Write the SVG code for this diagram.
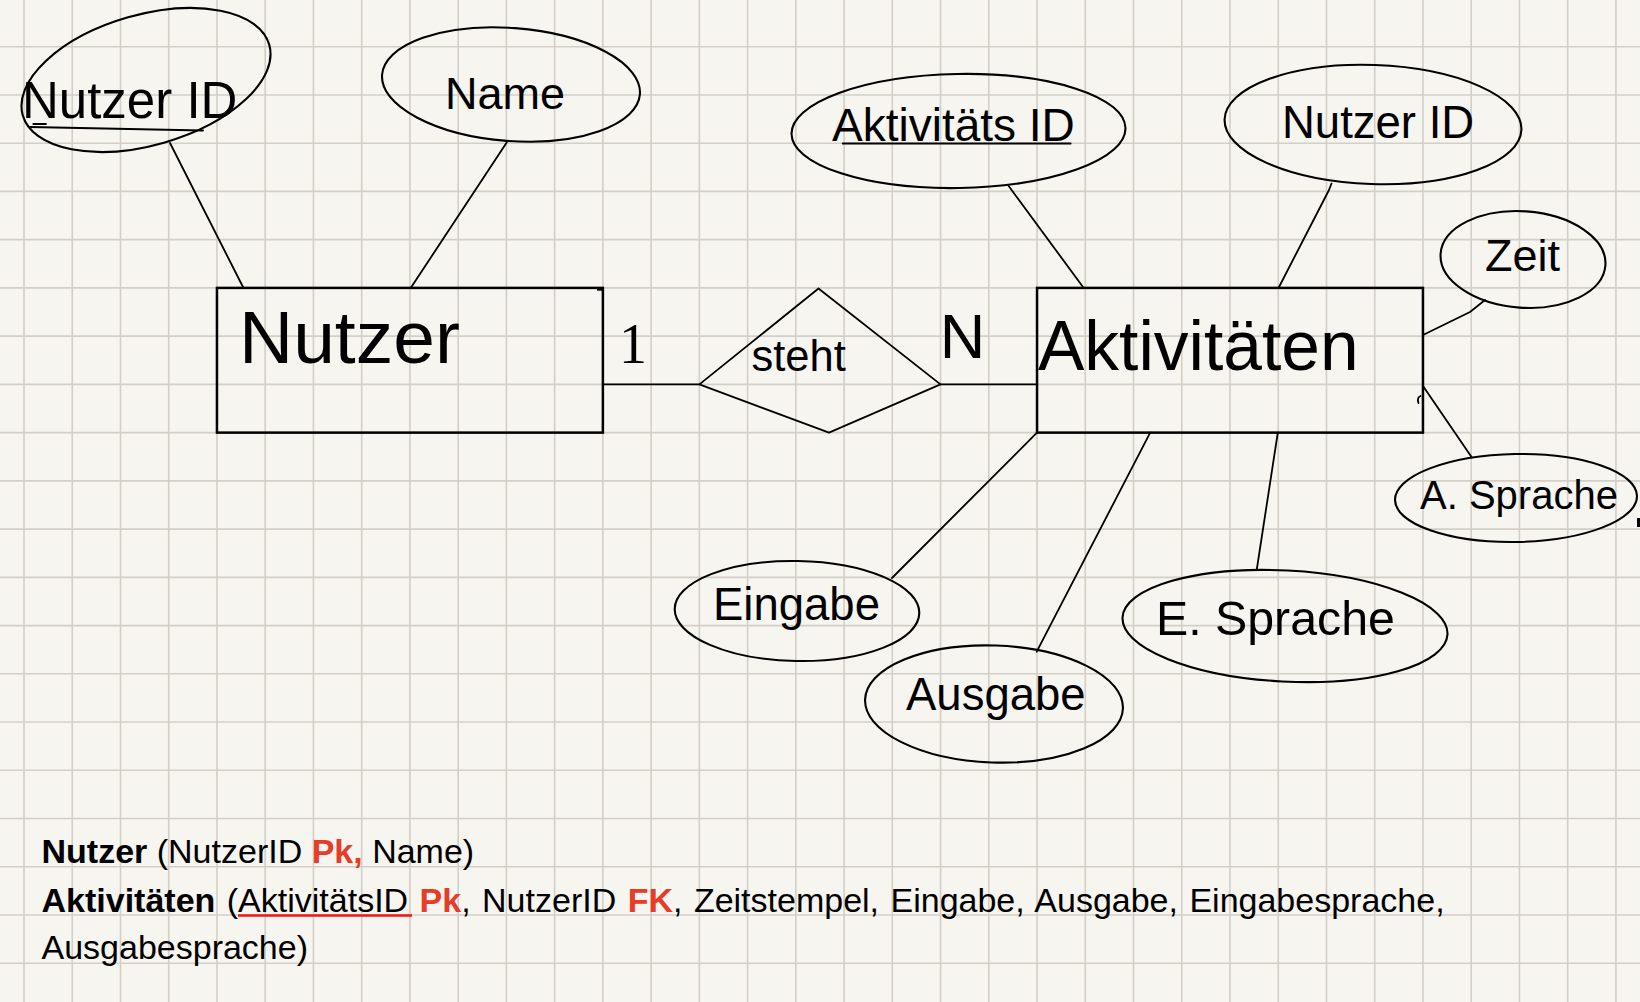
<svg xmlns="http://www.w3.org/2000/svg" width="1640" height="1002" viewBox="0 0 1640 1002">
<style>
.bg{fill:#f7f5f0}
.grid{stroke:#d3cfc7;stroke-width:1.6;fill:none}
.box{fill:none;stroke:#000;stroke-width:2.5}
.ell{fill:none;stroke:#000;stroke-width:2.1}
.ln{fill:none;stroke:#000;stroke-width:1.8;stroke-linecap:round;stroke-linejoin:round}
.t{font-family:"Liberation Sans",Arial,Helvetica,sans-serif;fill:#000}
.serif{font-family:"Liberation Serif","Times New Roman",serif;fill:#000}
.b{font-weight:bold}
.red{fill:#e63c28;font-weight:bold}
</style>
<rect class="bg" x="0" y="0" width="1640" height="1002"/>
<path class="grid" d="M24 0V1002M72.24 0V1002M120.48 0V1002M168.72 0V1002M216.96 0V1002M265.2 0V1002M313.44 0V1002M361.68 0V1002M409.92 0V1002M458.16 0V1002M506.4 0V1002M554.64 0V1002M602.88 0V1002M651.12 0V1002M699.36 0V1002M747.6 0V1002M795.84 0V1002M844.08 0V1002M892.32 0V1002M940.56 0V1002M988.8 0V1002M1037.04 0V1002M1085.28 0V1002M1133.52 0V1002M1181.76 0V1002M1230 0V1002M1278.24 0V1002M1326.48 0V1002M1374.72 0V1002M1422.96 0V1002M1471.2 0V1002M1519.44 0V1002M1567.68 0V1002M1615.92 0V1002M0 46.7H1640M0 94.94H1640M0 143.18H1640M0 191.42H1640M0 239.66H1640M0 287.9H1640M0 336.14H1640M0 384.38H1640M0 432.62H1640M0 480.86H1640M0 529.1H1640M0 577.34H1640M0 625.58H1640M0 673.82H1640M0 722.06H1640M0 770.3H1640M0 818.54H1640M0 866.78H1640M0 915.02H1640M0 963.26H1640"/>

<g id="connectors">
<path class="ln" d="M170 143L243.5 288"/>
<path class="ln" d="M506.7 142.5L410.7 288"/>
<path class="ln" d="M602.9 384.4H699.4"/>
<path class="ln" d="M940.5 384.4H1037"/>
<path class="ln" d="M1008.7 186L1083.7 288"/>
<path class="ln" d="M1331.5 183.5L1329 190L1278.5 288"/>
<path class="ln" d="M1485 300L1470 312L1423 335"/>
<path class="ln" d="M1423 386L1471.7 457.3"/>
<path class="ln" d="M1037 432.6L892 578"/>
<path class="ln" d="M1150.2 432.6L1036.7 651.7"/>
<path class="ln" d="M1277.8 432.6L1256.7 570"/>
</g>

<g id="nutzer">
<rect class="box" x="216.96" y="287.9" width="385.92" height="144.72"/>
<path d="M597 289.2H603" stroke="#000" stroke-width="3"/>
<text class="t" x="239" y="363" font-size="75">Nutzer</text>
</g>

<g id="aktivitaeten">
<rect class="box" x="1037.04" y="287.9" width="385.92" height="144.72"/>
<path class="ln" d="M1420.5 396C1418 397 1417.5 400 1418.5 403"/>
<text class="t" x="1038" y="370" font-size="69.5">Aktivitäten</text>
</g>

<g id="steht">
<polygon class="ln" points="699.4,384.4 818.5,288.5 940.5,384.4 829,432.6"/>
<text class="t" x="751.5" y="370.7" font-size="43.5">steht</text>
</g>

<g id="card-1">
<text class="serif" x="633" y="362.7" font-size="56" text-anchor="middle">1</text>
</g>
<g id="card-n">
<text class="t" x="939.8" y="358.3" font-size="63">N</text>
</g>

<g id="attr-nutzerid">
<ellipse class="ell" cx="146" cy="80" rx="128.2" ry="65.2" transform="rotate(-16 146 80)"/>
<text class="t" x="22" y="118" font-size="51">Nutzer ID</text>
<path class="ln" d="M33.3 124H46M30 127L203 130.5"/>
</g>

<g id="attr-name">
<ellipse class="ell" cx="511" cy="84.5" rx="129.3" ry="56.5" transform="rotate(4.3 511 84.5)"/>
<text class="t" x="445" y="109" font-size="45">Name</text>
</g>

<g id="attr-aktid">
<ellipse class="ell" cx="958.5" cy="131" rx="167" ry="57" transform="rotate(-1 958.5 131)"/>
<text class="t" x="832" y="140.7" font-size="46">Aktivitäts ID</text>
<path class="ln" d="M842.7 143.5H1070.7" stroke-width="2.2"/>
</g>

<g id="attr-nutzerid2">
<ellipse class="ell" cx="1373" cy="124.5" rx="148.5" ry="59.5" transform="rotate(2 1373 124.5)"/>
<text class="t" x="1282" y="138.3" font-size="45.5">Nutzer ID</text>
</g>

<g id="attr-zeit">
<ellipse class="ell" cx="1523" cy="259.5" rx="82.6" ry="48.2" transform="rotate(4 1523 259.5)"/>
<text class="t" x="1485" y="270.7" font-size="45">Zeit</text>
</g>

<g id="attr-asprache">
<ellipse class="ell" cx="1516" cy="498" rx="121" ry="44" transform="rotate(-1 1516 498)"/>
<text class="t" x="1420" y="509.3" font-size="40">A. Sprache</text>
<path d="M1638.5 518V527" stroke="#000" stroke-width="3"/>
</g>

<g id="attr-eingabe">
<ellipse class="ell" cx="797" cy="611" rx="122.3" ry="50" transform="rotate(1 797 611)"/>
<text class="t" x="713" y="620" font-size="45.5">Eingabe</text>
</g>

<g id="attr-ausgabe">
<ellipse class="ell" cx="994" cy="704" rx="129" ry="58.5" transform="rotate(2 994 704)"/>
<text class="t" x="906" y="710" font-size="45.5">Ausgabe</text>
</g>

<g id="attr-esprache">
<ellipse class="ell" cx="1285" cy="626" rx="162.7" ry="55.5" transform="rotate(3 1285 626)"/>
<text class="t" x="1156" y="635" font-size="48.3">E. Sprache</text>
</g>

<g id="schema">
<text class="t" font-size="34">
<tspan x="41.5" y="863"><tspan class="b">Nutzer</tspan> (NutzerID <tspan class="red">Pk,</tspan> Name)</tspan>
<tspan x="41.5" y="911.5" word-spacing="2"><tspan class="b">Aktivitäten</tspan> (AktivitätsID <tspan class="red">Pk</tspan>, NutzerID <tspan class="red">FK</tspan>, Zeitstempel, Eingabe, Ausgabe, Eingabesprache,</tspan>
<tspan x="41.5" y="958.5" word-spacing="0">Ausgabesprache)</tspan>
</text>
<path d="M238 915.5H412" stroke="#f01414" stroke-width="2.6"/>
</g>
</svg>
